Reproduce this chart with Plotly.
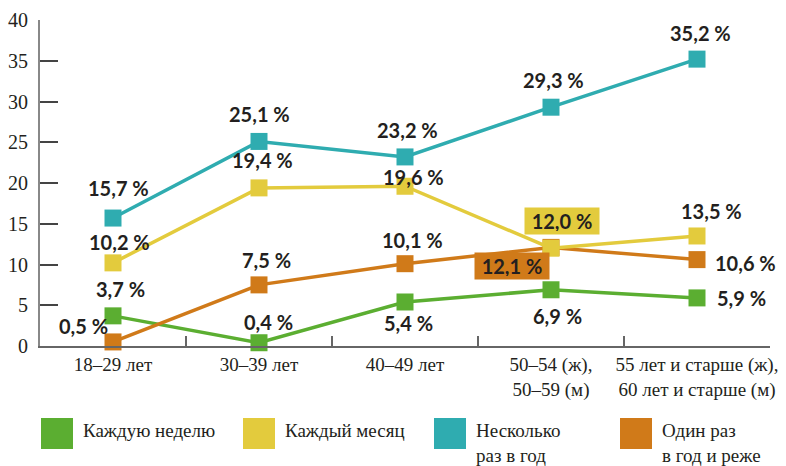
import plotly.graph_objects as go

categories = ["18–29 лет", "30–39 лет", "40–49 лет",
              "50–54 (ж),<br>50–59 (м)",
              "55 лет и старше (ж),<br>60 лет и старше (м)"]
weekly = [3.7, 0.4, 5.4, 6.9, 5.9]
monthly = [10.2, 19.4, 19.6, 12.0, 13.5]
several_year = [15.7, 25.1, 23.2, 29.3, 35.2]
once_year = [0.5, 7.5, 10.1, 12.1, 10.6]
series_names = ["Каждую неделю", "Каждый месяц", "Несколько<br>раз в год", "Один раз<br>в год и реже"]

GREEN, YELLOW, TEAL, ORANGE = "#5BAE31", "#E3CB3D", "#2FACB0", "#D07A19"
TXT = "#231F20"

# label offsets (pixels) per series, per point: (dx, dy)
lab_weekly = [(7, 27), (9, 21), (3, -21), (6, -26), (44, 0)]
lab_monthly = [(6, 21), (3, 28), (8, 9), (11, 27), (14, 25)]
lab_several = [(5, 30), (0, 27), (2, 27), (2, 27), (3, 26)]
lab_once = [(-30, 16), (7, 25), (7, 24), (-39, -19), (48, -3)]
box_monthly = [False, False, False, True, False]
box_once = [False, False, False, True, False]

fig = go.Figure()

def add_series(vals, color, name):
    fig.add_trace(go.Scatter(
        x=categories, y=vals, mode="lines+markers", name=name,
        line=dict(color=color, width=3.5),
        marker=dict(symbol="square", size=17, color=color, line=dict(width=0)),
        cliponaxis=False, showlegend=False, hoverinfo="skip"))

add_series(weekly, GREEN, series_names[0])
add_series(once_year, ORANGE, series_names[3])
add_series(monthly, YELLOW, series_names[1])
add_series(several_year, TEAL, series_names[2])

def fmt(v):
    return f"{v:.1f}".replace(".", ",") + " %"

annotations = []
def add_labels(vals, offs, color, boxes=None):
    for i, v in enumerate(vals):
        dx, dy = offs[i]
        boxed = boxes[i] if boxes else False
        a = dict(x=categories[i], y=v, xref="x", yref="y", text=fmt(v),
                 showarrow=False, xshift=dx, yshift=dy,
                 font=dict(family="Lato", size=20, color=TXT, weight="bold"))
        if boxed:
            a.update(bgcolor=color, borderpad=3, width=68, height=20)
        annotations.append(a)

add_labels(weekly, lab_weekly, GREEN)
add_labels(once_year, lab_once, ORANGE, box_once)
add_labels(monthly, lab_monthly, YELLOW, box_monthly)
add_labels(several_year, lab_several, TEAL)

# legend drawn below the plot
L, T, W, H = 40, 20, 730, 326
def px(x):
    return (x - L) / W
def py(y):
    return (T + H - y) / H

legend_colors = [GREEN, YELLOW, TEAL, ORANGE]
legend_sq_x = [41, 243, 434, 620]
shapes = []
for c, sx, name in zip(legend_colors, legend_sq_x, series_names):
    shapes.append(dict(type="rect", xref="paper", yref="paper",
                       x0=px(sx), x1=px(sx + 32), y0=py(449), y1=py(418),
                       fillcolor=c, line=dict(width=0)))
    annotations.append(dict(xref="paper", yref="paper", x=px(sx + 40), y=py(418),
                            xanchor="left", yanchor="top", showarrow=False,
                            align="left", text=name,
                            font=dict(family="Liberation Serif", size=19, color="#231F20")))

fig.update_layout(
    width=786, height=466,
    margin=dict(l=L, r=786 - L - W, t=T, b=466 - T - H, autoexpand=False),
    paper_bgcolor="white", plot_bgcolor="white",
    showlegend=False,
    annotations=annotations, shapes=shapes,
    xaxis=dict(type="category", range=[-0.5, 4.5], tickson="boundaries",
               ticks="inside", ticklen=10, tickwidth=1.5, tickcolor="#666",
               showline=True, linecolor="#666", linewidth=2,
               showgrid=False, zeroline=False, tickangle=0, automargin=False,
               tickfont=dict(family="Liberation Serif", size=19, color="#231F20")),
    yaxis=dict(range=[0, 40], tickvals=[0, 5, 10, 15, 20, 25, 30, 35, 40],
               ticks="inside", ticklen=18, tickwidth=1.5, tickcolor="#444",
               showline=True, linecolor="#888", linewidth=2,
               showgrid=False, zeroline=False, ticklabelstandoff=6, automargin=False,
               tickfont=dict(family="Liberation Serif", size=20, color="#231F20")),
)

fig.write_html("out.html", config={"displayModeBar": False},
               post_script="document.body.style.margin='0';document.body.style.overflow='hidden';document.documentElement.style.overflow='hidden';")
